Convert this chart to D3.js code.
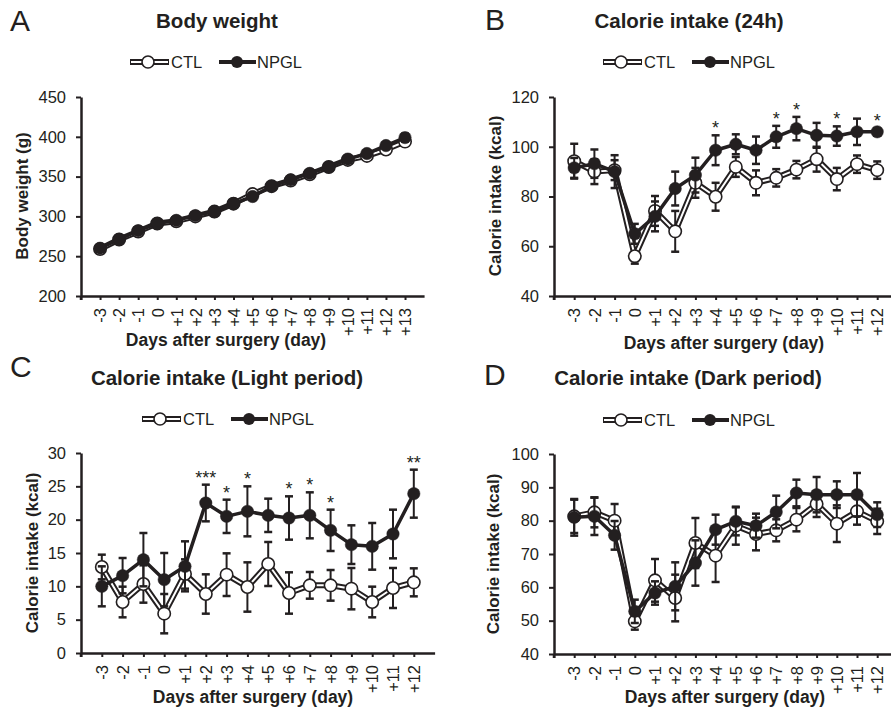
<!DOCTYPE html>
<html>
<head>
<meta charset="utf-8">
<script src="https://cdn.jsdelivr.net/npm/d3@7"></script>
<style>
body { margin: 0; background: #fff; }
text { font-family: "Liberation Sans", Arial, sans-serif; fill: #231f20; }
</style>
</head>
<body>
<svg id="chart" width="891" height="711"></svg>
<script>
// day labels
var days17 = ["-3","-2","-1","0","+1","+2","+3","+4","+5","+6","+7","+8","+9","+10","+11","+12","+13"];
var days16 = days17.slice(0, 16);

// A: body weight (g)
var bwCtl      = [259, 271, 281, 291, 294, 300, 306, 316, 328, 338, 345, 353, 362, 371, 376, 384, 394];
var bwCtlErr   = [3, 3, 3, 3, 3, 3, 3, 3, 4, 4, 4, 4, 4, 4, 4, 4, 4];
var bwNpgl     = [260, 271, 282, 291, 295, 301, 306, 316, 325, 338, 346, 354, 362, 372, 379, 389, 399];
var bwNpglErr  = [3, 3, 3, 3, 3, 3, 3, 3, 4, 4, 4, 4, 4, 4, 4, 4, 5];

// B: calorie intake 24h (kcal)
var d24Ctl     = [94.2, 90, 90.6, 56, 74.2, 66, 85.5, 79.9, 91.9, 85.5, 87.5, 90.8, 95, 87, 93, 90.6];
var d24CtlErr  = [7, 5, 4, 3, 6, 8.2, 6, 5.6, 4, 5, 3.5, 3.5, 5, 4.5, 3.5, 3.5];
var d24Npgl    = [91.5, 93.2, 90, 65, 72, 83.2, 88.6, 98.6, 101, 98.6, 104, 107.3, 104.6, 104.3, 106, 106];
var d24NpglErr = [4, 5.7, 6.6, 4, 6, 6.8, 7, 6, 4, 5.5, 4.4, 4.7, 5, 3.9, 5.3, 1.5];
var d24Sig     = ["", "", "", "", "", "", "", "*", "", "", "*", "*", "", "*", "", "*"];

// C: calorie intake light period (kcal)
var lightCtl     = [12.9, 7.65, 10.35, 5.9, 11.85, 8.85, 11.75, 9.9, 13.35, 9, 10.15, 10.15, 9.65, 7.65, 9.75, 10.6];
var lightCtlErr  = [1.85, 2.3, 2.8, 2.95, 2.2, 2.95, 3.2, 3.7, 3.3, 3.1, 2, 2.3, 3.1, 2.3, 3, 2.1];
var lightNpgl    = [10, 11.6, 14, 11, 13, 22.5, 20.5, 21.25, 20.65, 20.25, 20.65, 18.4, 16.25, 16, 17.85, 23.9];
var lightNpglErr = [3, 2.65, 4, 4, 3.75, 2.75, 2.5, 3.75, 2.5, 3.25, 3.45, 3.1, 2.9, 3.5, 3.65, 3.6];
var lightSig     = ["", "", "", "", "", "***", "*", "*", "", "*", "*", "*", "", "", "", "**"];

// D: calorie intake dark period (kcal)
var darkCtl     = [81.3, 82.5, 80, 49.8, 62.1, 56.8, 73.3, 69.5, 78.5, 76, 77.1, 80.3, 85, 79.1, 82.8, 79.8];
var darkCtlErr  = [5, 4.5, 5, 2.5, 6.4, 7, 7.5, 7.9, 5.7, 4.9, 3.3, 3.5, 3.9, 5.5, 4, 3.8];
var darkNpgl    = [81, 81.3, 75.6, 52.8, 58.3, 60.3, 67.3, 77.3, 79.8, 78.5, 82.6, 88.3, 87.8, 87.8, 87.8, 81.8];
var darkNpglErr = [5.5, 5.6, 4.3, 3.5, 3.5, 7.2, 6.8, 4.5, 4.2, 3.6, 4.9, 4, 5.3, 4, 6.5, 3.7];

var ink = "#231f20";
var svg = d3.select("#chart");

var panels = [
    { letter: "A", lx: 10, ly: 31, title: "Body weight", tx: 217, ty: 28,
      legX: 130, legY: 62, days: days17, ctl: bwCtl, ctlErr: bwCtlErr, npgl: bwNpgl, npglErr: bwNpglErr, sig: null,
      ax: 81, step: 19.06, y0: 296, y1: 97, dom: [200, 450], tickStep: 50,
      ylab: "Body weight (g)", ylx: 28, yly: 196, xlx: 226, xly: 346 },
    { letter: "B", lx: 485, ly: 30, title: "Calorie intake (24h)", tx: 689, ty: 28,
      legX: 603, legY: 62, days: days16, ctl: d24Ctl, ctlErr: d24CtlErr, npgl: d24Npgl, npglErr: d24NpglErr, sig: d24Sig,
      ax: 554, step: 20.2, y0: 296, y1: 97, dom: [40, 120], tickStep: 20,
      ylab: "Calorie intake (kcal)", ylx: 501, yly: 196, xlx: 724, xly: 349 },
    { letter: "C", lx: 10, ly: 377, title: "Calorie intake (Light period)", tx: 227, ty: 385,
      legX: 142, legY: 419, days: days16, ctl: lightCtl, ctlErr: lightCtlErr, npgl: lightNpgl, npglErr: lightNpglErr, sig: lightSig,
      ax: 81, step: 20.8, y0: 653, y1: 453, dom: [0, 30], tickStep: 5,
      ylab: "Calorie intake (kcal)", ylx: 38, yly: 553, xlx: 253, xly: 703 },
    { letter: "D", lx: 484, ly: 385, title: "Calorie intake (Dark period)", tx: 688, ty: 385,
      legX: 603, legY: 420, days: days16, ctl: darkCtl, ctlErr: darkCtlErr, npgl: darkNpgl, npglErr: darkNpglErr, sig: null,
      ax: 554, step: 20.2, y0: 654, y1: 454, dom: [40, 100], tickStep: 10,
      ylab: "Calorie intake (kcal)", ylx: 499, yly: 554, xlx: 725, xly: 703 }
];

var draw_legend = function(g, x, y) {
    // CTL: double line with open circle
    g.append("line").attr("x1", x).attr("x2", x + 39).attr("y1", y).attr("y2", y)
        .attr("stroke", ink).attr("stroke-width", 6);
    g.append("line").attr("x1", x + 1).attr("x2", x + 38).attr("y1", y).attr("y2", y)
        .attr("stroke", "#fff").attr("stroke-width", 2);
    g.append("circle").attr("cx", x + 18).attr("cy", y).attr("r", 6)
        .attr("fill", "#fff").attr("stroke", ink).attr("stroke-width", 1.6);
    g.append("text").attr("x", x + 41).attr("y", y + 6).attr("font-size", 16.5).text("CTL");
    // NPGL
    g.append("line").attr("x1", x + 89).attr("x2", x + 126).attr("y1", y).attr("y2", y)
        .attr("stroke", ink).attr("stroke-width", 4);
    g.append("circle").attr("cx", x + 107).attr("cy", y).attr("r", 6).attr("fill", ink);
    g.append("text").attr("x", x + 127).attr("y", y + 6).attr("font-size", 16.5).text("NPGL");
}

var draw_series = function(g, x, y, vals, errs, open) {
    var idx = d3.range(vals.length);
    // error bars
    var eb = g.append("g");
    idx.forEach(function(i) {
        var cx = x(i), top = y(vals[i] + errs[i]), bot = y(vals[i] - errs[i]);
        eb.append("line").attr("x1", cx).attr("x2", cx).attr("y1", top).attr("y2", bot)
            .attr("stroke", ink).attr("stroke-width", 2);
        [top, bot].forEach(function(yy) {
            eb.append("line").attr("x1", cx - 4).attr("x2", cx + 4).attr("y1", yy).attr("y2", yy)
                .attr("stroke", ink).attr("stroke-width", 2.5);
        });
    });
    var line = d3.line().x(function(i) { return x(i); }).y(function(i) { return y(vals[i]); });
    if (open) {
        g.append("path").attr("d", line(idx)).attr("fill", "none").attr("stroke", ink)
            .attr("stroke-width", 6).attr("stroke-linejoin", "round");
        g.append("path").attr("d", line(idx)).attr("fill", "none").attr("stroke", "#fff")
            .attr("stroke-width", 2).attr("stroke-linejoin", "round");
    } else {
        g.append("path").attr("d", line(idx)).attr("fill", "none").attr("stroke", ink)
            .attr("stroke-width", 3.5).attr("stroke-linejoin", "round");
    }
    g.selectAll("circle.pt").data(idx).enter().append("circle")
        .attr("cx", function(i) { return x(i); })
        .attr("cy", function(i) { return y(vals[i]); })
        .attr("r", 6.2)
        .attr("fill", open ? "#fff" : ink)
        .attr("stroke", ink)
        .attr("stroke-width", open ? 1.6 : 0.5);
}

panels.forEach(function(p) {
    var g = svg.append("g");
    var n = p.days.length;

    g.append("text").attr("x", p.lx).attr("y", p.ly).attr("font-size", 30).text(p.letter);
    g.append("text").attr("x", p.tx).attr("y", p.ty).attr("text-anchor", "middle")
        .attr("font-size", 20.5).attr("font-weight", "bold").text(p.title);
    draw_legend(g, p.legX, p.legY);

    var x = d3.scaleLinear().domain([-1, n]).range([p.ax, p.ax + (n + 1) * p.step]);
    var y = d3.scaleLinear().domain(p.dom).range([p.y0, p.y1]);

    var yAxis = d3.axisLeft(y)
        .tickValues(d3.range(p.dom[0], p.dom[1] + 0.001, p.tickStep))
        .tickSize(5).tickPadding(10).tickSizeOuter(0);
    var ya = g.append("g").attr("transform", "translate(" + p.ax + ",0)").call(yAxis);
    ya.selectAll("text").attr("font-size", 16.5).attr("font-family", null).style("fill", ink);

    var xAxis = d3.axisBottom(x)
        .tickValues(d3.range(-1, n))
        .tickFormat(function(i) { return i < 0 ? "" : p.days[i]; })
        .tickSize(4).tickPadding(0).tickSizeOuter(0);
    var xa = g.append("g").attr("transform", "translate(0," + p.y0 + ")").call(xAxis);
    xa.selectAll("text")
        .attr("font-size", 16.5).attr("font-family", null).style("fill", ink)
        .attr("text-anchor", "end")
        .attr("transform", "rotate(-90)")
        .attr("x", -12).attr("y", 0).attr("dy", "0.35em");

    [ya, xa].forEach(function(a) {
        a.select(".domain").attr("stroke", ink).attr("stroke-width", 2.5);
        a.selectAll(".tick line").attr("stroke", ink).attr("stroke-width", 2);
    });
    // extend y axis slightly below x axis
    g.append("line").attr("x1", p.ax).attr("x2", p.ax).attr("y1", p.y0).attr("y2", p.y0 + 4)
        .attr("stroke", ink).attr("stroke-width", 2.5);

    g.append("text")
        .attr("transform", "translate(" + p.ylx + "," + p.yly + ") rotate(-90)")
        .attr("text-anchor", "middle").attr("font-size", 17).attr("font-weight", "bold")
        .text(p.ylab);
    g.append("text").attr("x", p.xlx).attr("y", p.xly).attr("text-anchor", "middle")
        .attr("font-size", 17.5).attr("font-weight", "bold").text("Days after surgery (day)");

    var plot = g.append("g");
    draw_series(plot, x, y, p.ctl, p.ctlErr, true);
    draw_series(plot, x, y, p.npgl, p.npglErr, false);

    if (p.sig) {
        plot.selectAll("text.sig").data(d3.range(n).filter(function(i) { return p.sig[i]; }))
            .enter().append("text")
            .attr("x", function(i) { return x(i); })
            .attr("y", function(i) { return y(p.npgl[i] + p.npglErr[i]) - 1; })
            .attr("text-anchor", "middle").attr("font-size", 18)
            .text(function(i) { return p.sig[i]; });
    }
});
</script>
</body>
</html>
